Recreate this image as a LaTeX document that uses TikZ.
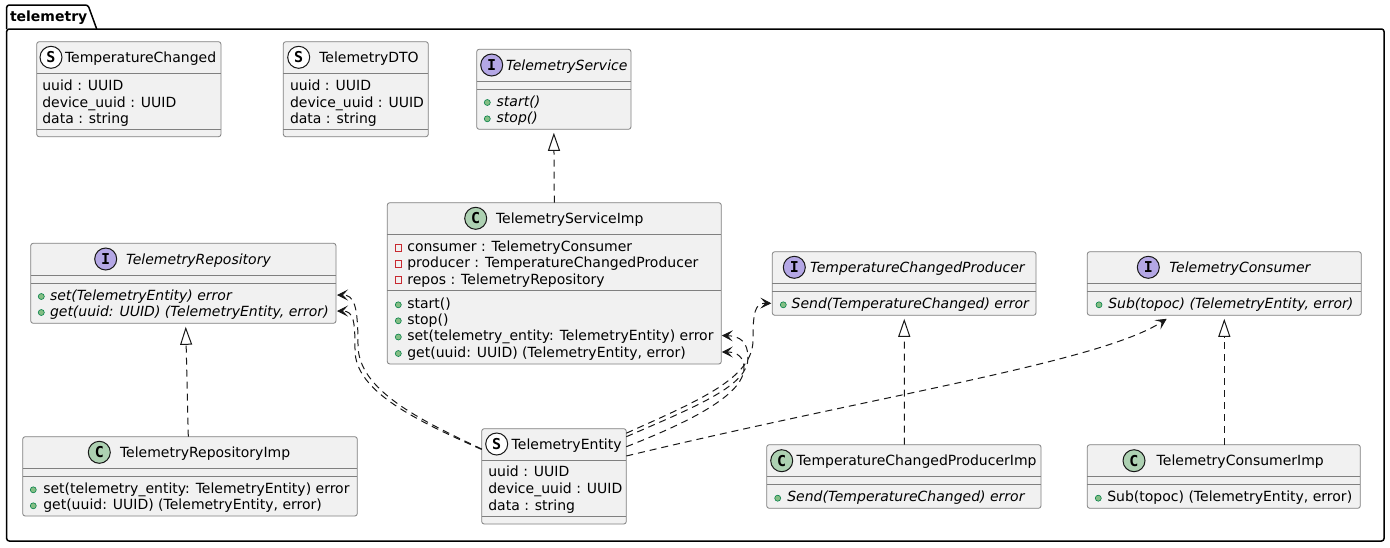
\documentclass[tikz,border=0pt]{standalone}
\usepackage{fontspec}
\setmainfont{DejaVu Sans}
\newfontfamily\iconfont{DejaVu Sans Mono}
\usetikzlibrary{arrows.meta,calc}
\definecolor{boxfill}{HTML}{F1F1F1}
\definecolor{boxline}{HTML}{808080}
\definecolor{ink}{HTML}{181818}
\definecolor{ifill}{HTML}{B4A7E5}
\definecolor{cfill}{HTML}{ADD1B2}
\definecolor{sfill}{HTML}{FFFFFF}
\definecolor{pubfill}{HTML}{84BE84}
\definecolor{publine}{HTML}{038048}
\definecolor{privline}{HTML}{C82930}
\newcounter{tn}
\newcommand\tx[4]{\stepcounter{tn}\node[#1, anchor=base west] (txt\arabic{tn}) at (#2,#3+5) {#4};}
\newcommand\ubox[5]{\node[umlbox, anchor=north west, minimum width={#4-#2}, minimum height={#5-#3}] (#1) at (#2,#3) {};}
\newcommand\hsep[3]{\draw[sepline] (#1,#3) -- (#2,#3);}
\newcommand\pub[2]{\draw[draw=publine, fill=pubfill, line width=0.6pt] (#1,#2+1.5) circle (3pt);}
\newcommand\priv[2]{\draw[draw=privline, line width=0.8pt] (#1-3.3,#2-2.3) rectangle (#1+3.3,#2+4.3);}
\tikzset{
  umlbox/.style={draw=boxline, fill=boxfill, line width=0.8pt, rounded corners=2.5pt, inner sep=0pt, outer sep=0pt},
  sepline/.style={draw=boxline, line width=0.8pt},
  txt/.style={inner sep=0pt, outer sep=0pt, font=\fontsize{14}{16}\selectfont, text=black},
  itxt/.style={txt, font=\fontsize{14}{16}\selectfont\itshape},
  btxt/.style={txt, font=\fontsize{14}{16}\selectfont\bfseries},
  icon/.style={circle, draw=ink, line width=1pt, minimum size=22pt, inner sep=0pt, font=\fontsize{15}{15}\iconfont\bfseries\selectfont},
  realize/.style={draw=ink, line width=1pt, dash pattern=on 7pt off 5pt, shorten >=3.5pt,
     -{Triangle[open, length=18pt, width=12pt, line width=1pt]}},
  depend/.style={draw=ink, line width=1pt, dash pattern=on 7pt off 5pt,
     -{Stealth[length=11pt, width=11pt, inset=5pt, line width=0.8pt]}},
  pkgline/.style={draw=black, line width=1.5pt},
}
\begin{document}
\begin{tikzpicture}[x=1pt, y=-1pt]
\useasboundingbox[fill=white] (0,0) rectangle (1390,547);

% package
\node[pkgline, fill=white, rounded corners=2.5pt, inner sep=0pt, outer sep=0pt, anchor=north west,
      minimum width=1377.3, minimum height=512] (pkg) at (6.7,29) {};
\draw[pkgline, rounded corners=2.5pt] (pkg.north west) -- (6.7,5) -- (88,5) -- (96.7,29);
\node[btxt, anchor=base west] (pkgname) at (10,21.7) {telemetry};

% TemperatureChanged
\ubox{tc}{36.7}{41.7}{221}{136.7}
\hsep{36.7}{221}{73.3}\hsep{36.7}{221}{129}
\node[icon, fill=sfill] (tci) at (51,57.3) {S};
\tx{txt}{65}{57.3}{TemperatureChanged}
\tx{txt}{42.3}{85.7}{uuid : UUID}
\tx{txt}{42.3}{102}{device\_uuid : UUID}
\tx{txt}{42.3}{118.3}{data : string}

% TelemetryDTO
\ubox{dto}{283.3}{41.7}{428.3}{136.7}
\hsep{283.3}{428.3}{73.3}\hsep{283.3}{428.3}{129}
\node[icon, fill=sfill] (dtoi) at (298.7,57.3) {S};
\tx{txt}{319.3}{57.3}{TelemetryDTO}
\tx{txt}{290}{85.7}{uuid : UUID}
\tx{txt}{290}{102}{device\_uuid : UUID}
\tx{txt}{290}{118.3}{data : string}

% TelemetryService
\ubox{ts}{476.7}{49.3}{631}{129.3}
\hsep{476.7}{631}{81.7}\hsep{476.7}{631}{89.3}
\node[icon, fill=ifill] (tsic) at (491.7,65) {I};
\tx{itxt}{506}{65}{TelemetryService}
\pub{487.3}{101}\tx{itxt}{496.7}{101}{start()}
\pub{487.3}{117.3}\tx{itxt}{496.7}{117.3}{stop()}

% TelemetryServiceImp
\ubox{tsi}{387.3}{202.7}{721.3}{364}
\hsep{387.3}{721.3}{234}\hsep{387.3}{721.3}{290}
\node[icon, fill=cfill] (tsiic) at (475.7,218.3) {C};
\tx{txt}{496}{218.3}{TelemetryServiceImp}
\priv{398.3}{246.7}\tx{txt}{407.3}{246.7}{consumer : TelemetryConsumer}
\priv{398.3}{262.7}\tx{txt}{407.3}{262.7}{producer : TemperatureChangedProducer}
\priv{398.3}{279}\tx{txt}{407.3}{279}{repos : TelemetryRepository}
\pub{398.3}{303.3}\tx{txt}{407.3}{303.3}{start()}
\pub{398.3}{319.3}\tx{txt}{407.3}{319.3}{stop()}
\pub{398.3}{335.5}\tx{txt}{407.3}{335.5}{set(telemetry\_entity: TelemetryEntity) error}
\pub{398.3}{352}\tx{txt}{407.3}{352}{get(uuid: UUID) (TelemetryEntity, error)}

% TelemetryRepository
\ubox{tr}{30.7}{243.3}{336}{323.3}
\hsep{30.7}{336}{275.3}\hsep{30.7}{336}{283.3}
\node[icon, fill=ifill] (tric) at (105.7,259) {I};
\tx{itxt}{126}{259}{TelemetryRepository}
\pub{41.3}{295}\tx{itxt}{50}{295}{set(TelemetryEntity) error}
\pub{41.3}{311}\tx{itxt}{50}{311}{get(uuid: UUID) (TelemetryEntity, error)}

% TelemetryRepositoryImp
\ubox{tri}{22.7}{436.7}{357.3}{516}
\hsep{22.7}{357.3}{468.3}\hsep{22.7}{357.3}{476.7}
\node[icon, fill=cfill] (triic) at (99.3,452.3) {C};
\tx{txt}{120}{452.3}{TelemetryRepositoryImp}
\pub{33.3}{488.3}\tx{txt}{43.3}{488.3}{set(telemetry\_entity: TelemetryEntity) error}
\pub{33.3}{504.3}\tx{txt}{43.3}{504.3}{get(uuid: UUID) (TelemetryEntity, error)}

% TelemetryEntity
\ubox{te}{481.7}{428.7}{626.3}{524}
\hsep{481.7}{626.3}{460.3}\hsep{481.7}{626.3}{516.7}
\node[icon, fill=sfill] (teic) at (496.7,444) {S};
\tx{txt}{511.7}{444}{TelemetryEntity}
\tx{txt}{488.3}{471.7}{uuid : UUID}
\tx{txt}{488.3}{488.3}{device\_uuid : UUID}
\tx{txt}{488.3}{505}{data : string}

% TemperatureChangedProducer
\ubox{tcp}{772.3}{251.7}{1036}{315.3}
\hsep{772.3}{1036}{283.3}\hsep{772.3}{1036}{291.7}
\node[icon, fill=ifill] (tcpic) at (794.3,267.3) {I};
\tx{itxt}{810}{267.3}{TemperatureChangedProducer}
\pub{783.3}{303.3}\tx{itxt}{791.7}{303.3}{Send(TemperatureChanged) error}

% TemperatureChangedProducerImp
\ubox{tcpi}{766.7}{444.7}{1041}{508.3}
\hsep{766.7}{1041}{476.7}\hsep{766.7}{1041}{484.7}
\node[icon, fill=cfill] (tcpiic) at (781.7,460.7) {C};
\tx{txt}{796.7}{460.7}{TemperatureChangedProducerImp}
\pub{777.7}{496.7}\tx{itxt}{787.3}{496.7}{Send(TemperatureChanged) error}

% TelemetryConsumer
\ubox{tcons}{1087.3}{251.7}{1361.3}{315.3}
\hsep{1087.3}{1361.3}{283.3}\hsep{1087.3}{1361.3}{291.7}
\node[icon, fill=ifill] (tconsic) at (1148.3,267.3) {I};
\tx{itxt}{1169.3}{267.3}{TelemetryConsumer}
\pub{1099}{303.3}\tx{itxt}{1108.3}{303.3}{Sub(topoc) (TelemetryEntity, error)}

% TelemetryConsumerImp
\ubox{tconsi}{1087.3}{444.7}{1360.3}{508.3}
\hsep{1087.3}{1360.3}{476.7}\hsep{1087.3}{1360.3}{484.7}
\node[icon, fill=cfill] (tconsiic) at (1134,460.7) {C};
\tx{txt}{1156.7}{460.7}{TelemetryConsumerImp}
\pub{1098.3}{496.7}\tx{txt}{1107.3}{496.7}{Sub(topoc) (TelemetryEntity, error)}

% realizations
\draw[realize] (tsi.north) -- (ts.south);
\draw[realize] ($(tri.north)+(-1.7,0)$) -- ($(tr.south)+(2.3,0)$);
\draw[realize] ($(tcpi.north)+(0.4,0)$) -- ($(tcp.south)+(0.1,0)$);
\draw[realize] ($(tconsi.north)+(0.5,0)$) -- (tcons.south);

% dependencies
\draw[depend] ($(te.north west)+(0,20.3)$) .. controls (420,420) and (358,390) .. (358,345)
   .. controls (358,305) and (354,295) .. ($(tr.north east)+(1,51.7)$);
\draw[depend] ($(te.north west)+(0,20.8)$) .. controls (418,421) and (355,392) .. (355,350)
   .. controls (355,322) and (354,311) .. ($(tr.north east)+(1,67.7)$);
\draw[depend] ($(te.north east)+(0,8)$) .. controls (700,405) and (748,385) .. (748,358)
   .. controls (748,342) and (740,336) .. ($(tsi.north east)+(0.5,132.8)$);
\draw[depend] ($(te.north east)+(0,18)$) .. controls (700,418) and (744,392) .. (744,368)
   .. controls (744,358) and (738,352) .. ($(tsi.north east)+(0.5,149.3)$);
\draw[depend] ($(te.north east)+(0,4.5)$) .. controls (700,400) and (753,378) .. (753,340)
   .. controls (753,312) and (755,303) .. ($(tcp.north west)+(-1,51.6)$);
\draw[depend] ($(te.north east)+(0,27.3)$) .. controls (880,395) and (1100,362) .. ($(tcons.south west)+(79.4,3.5)$);
\end{tikzpicture}
\end{document}
